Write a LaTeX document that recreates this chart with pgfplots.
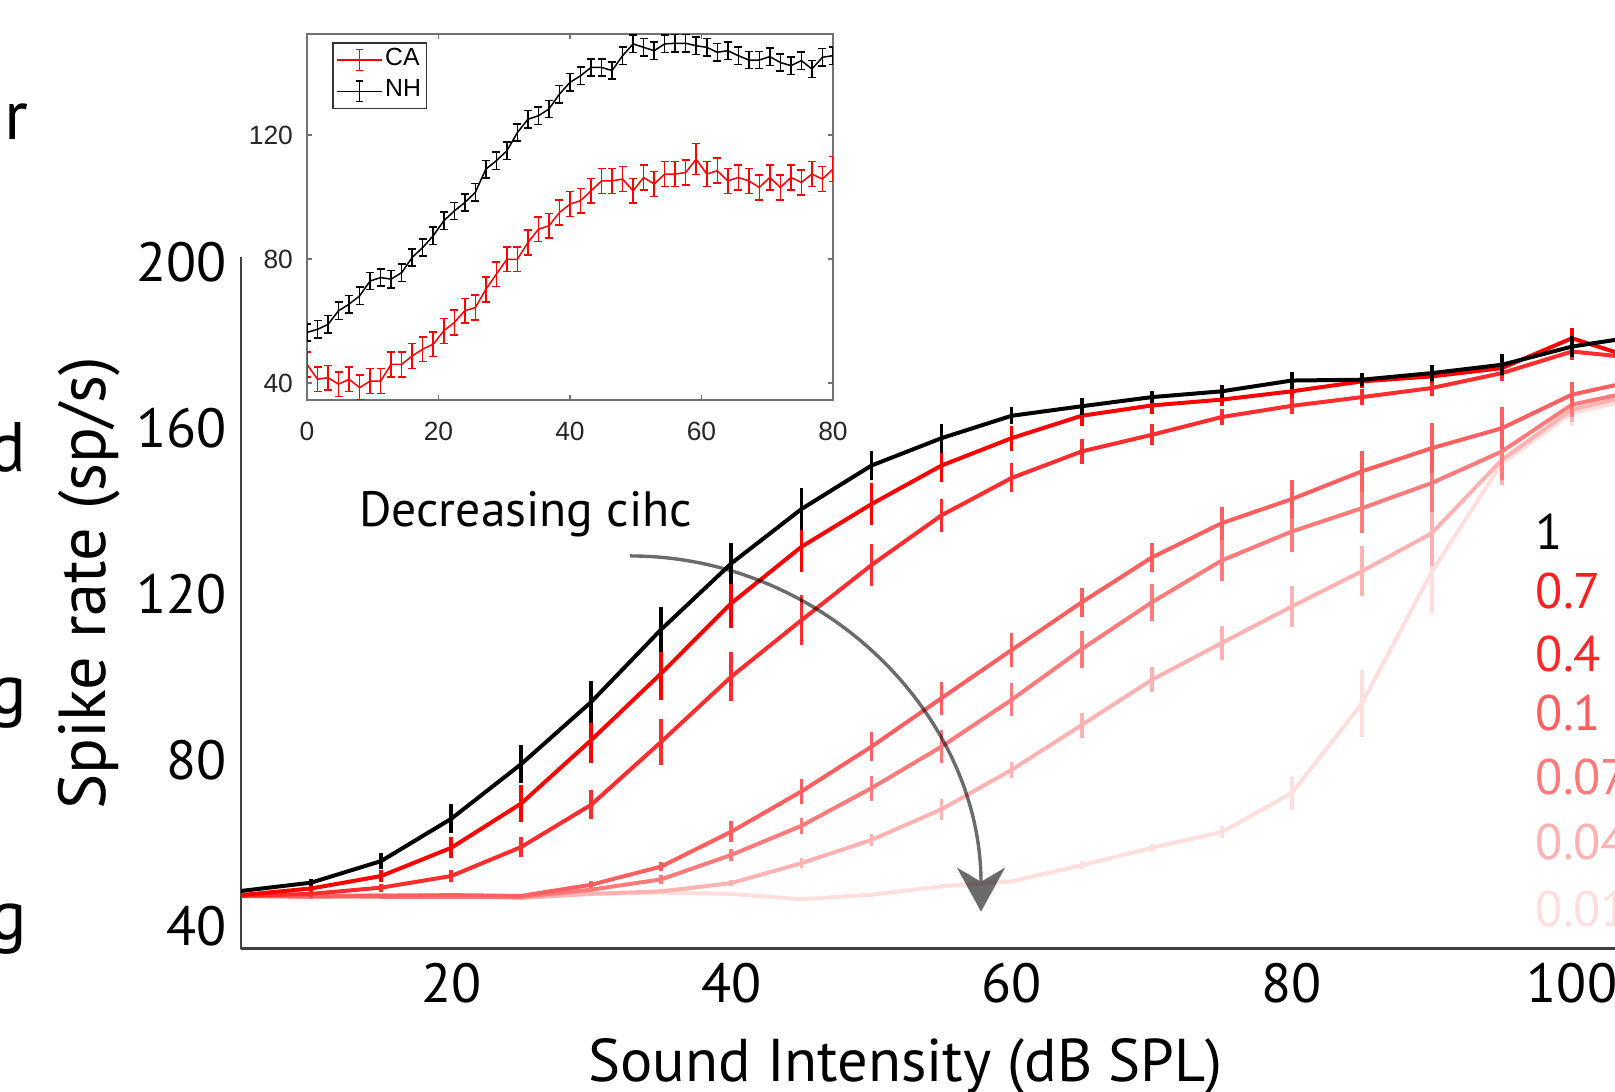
\documentclass[border=0pt]{standalone}
\usepackage{fontspec}
\setmainfont{PT Sans}
\newfontfamily\insetfont{Liberation Sans}
\usepackage{pgfplots}
\usepackage{pgfplotstable}
\pgfplotsset{compat=1.18}
\usetikzlibrary{arrows.meta}

\definecolor{c07}{RGB}{255,0,0}
\definecolor{c04}{RGB}{255,45,45}
\definecolor{c01}{RGB}{255,95,95}
\definecolor{c007}{RGB}{255,122,122}
\definecolor{c004}{RGB}{255,178,178}
\definecolor{c001}{RGB}{255,222,222}
\definecolor{l07}{RGB}{255,30,30}
\definecolor{l04}{RGB}{255,40,40}

% main figure: x = sound intensity (dB SPL), y = spike rate, e = error
\pgfplotstableread{
x y e
5 48.4 0.5
10 50.4 0.8
15 55.6 2
20 65.8 3.5
25 79 4.5
30 94 5
35 111.5 5.5
40 127.4 5
45 140.5 5
50 151 3.5
55 157.6 3.5
60 163 2
65 165.3 2
70 167.5 1.5
75 168.9 1.5
80 171.5 2
85 171.7 1.5
90 173.3 2
95 175.3 2.5
100 179.7 2.5
105 182.3 0
}\tblA
\pgfplotstableread{
x y e
5 47.4 0.5
10 49 0.7
15 52 1.5
20 58.8 2.5
25 69.5 4.5
30 84.8 5.5
35 100.9 6.5
40 117.8 6
45 131.4 6
50 141.7 5
55 151 4
60 157.6 3
65 163 2.5
70 165.5 2
75 166.9 1.5
80 168.9 1.5
85 171.3 1.5
90 172.5 1.5
95 174.5 2
100 181.7 2.5
105 176.3 0
}\tblB
\pgfplotstableread{
x y e
5 47.2 0.5
10 47.7 0.8
15 49.2 1
20 52 1.5
25 59 2.5
30 69.2 3.5
35 84.4 5.5
40 100.1 6
45 113.7 6
50 127 5
55 139 4
60 148 3.5
65 154.4 3
70 158.4 2.5
75 162.7 2
80 165.4 2
85 167.5 2
90 169.7 2
95 173.3 2
100 178.5 2
105 176.8 0
}\tblC
\pgfplotstableread{
x y e
5 47.2 0.3
10 47 0.3
15 47.2 0.3
20 47.4 0.3
25 47.2 0.5
30 49.9 0.8
35 54.3 1.2
40 62.7 2.5
45 72.4 3
50 83.2 3.5
55 94.9 4
60 106.5 4
65 118 3.5
70 128.8 3.5
75 137.1 4
80 142.9 4.5
85 149.6 5
90 155.2 6
95 160 5
100 168.1 3
105 171.8 0
}\tblD
\pgfplotstableread{
x y e
5 47.2 0.3
10 47.2 0.3
15 47 0.3
20 47 0.3
25 47 0.3
30 48.7 0.5
35 51.2 1
40 57.1 1.5
45 64.1 2
50 73.2 3
55 83.2 4
60 94.5 4
65 106.7 4.5
70 118 4.5
75 128.1 5
80 135.1 5
85 140.7 6
90 146.8 7
95 154.4 7
100 165.7 3
105 169.3 0
}\tblE
\pgfplotstableread{
x y e
5 47.2 0.3
10 47.2 0.3
15 47.4 0.3
20 47.2 0.3
25 46.7 0.3
30 47.7 0.3
35 48.3 0.5
40 50.3 0.8
45 55.1 1.2
50 60.7 1.5
55 68.1 2.5
60 77.6 2
65 88.4 3
70 99.3 3
75 108.2 4
80 117 5
85 125.5 6
90 134.7 8
95 152.4 6
100 164.5 3
105 168.5 0
}\tblF
\pgfplotstableread{
x y e
5 47.2 0.3
10 47 0.3
15 47.4 0.3
20 47.4 0.3
25 47 0.3
30 47.7 0.3
35 48 0.3
40 47.7 0.3
45 46.4 0.5
50 47.5 0.5
55 49.5 0.5
60 50.7 0.5
65 54.6 1
70 58.8 1
75 62.6 1.5
80 72 4
85 93.6 8
90 125.4 10
95 151.6 5
100 163.6 3
105 167.5 0
}\tblG

% inset
\pgfplotstableread{
x y e
0 56.3 2.8
1.6 57.3 2.8
3.2 58.9 2.8
4.8 63.3 2.8
6.4 65.4 2.8
8 68.1 2.8
9.6 72.9 2.8
11.2 74 2.8
12.8 73.5 2.8
14.4 75.6 2.8
16 80.5 2.8
17.6 83.7 2.8
19.2 87.5 2.8
20.8 92.3 2.8
22.4 95.5 2.8
24 98.2 2.8
25.6 101.5 2.8
27.2 109 2.8
28.8 111.7 2.8
30.4 114.9 2.8
32 120.8 2.8
33.6 125.1 2.8
35.2 126.2 2.8
36.8 128.4 2.8
38.4 133.2 2.8
40 137 2.8
41.6 139.1 2.8
43.2 141.8 2.8
44.8 141.8 2.8
46.4 140.8 2.8
48 145.6 2.8
49.6 149.4 2.8
51.2 148.3 2.8
52.8 147.2 2.8
54.4 149.4 2.8
56 149.6 2.8
57.6 149.6 2.8
59.2 148.8 2.8
60.8 148.3 2.8
62.4 146.7 2.8
64 147.2 2.8
65.6 145.6 2.8
67.2 144.2 2.8
68.8 144.2 2.8
70.4 145.3 2.8
72 143.4 2.8
73.6 142.4 2.8
75.2 144 2.8
76.8 141.3 2.8
78.4 145.1 2.8
80 145.6 2.8
}\tblNH
\pgfplotstableread{
x y e
0 46 4
1.6 41.2 4
3.2 41.7 4
4.8 39.6 4
6.4 41.2 4
8 38.5 4
9.6 40.6 4
11.2 40.6 4
12.8 46 4
14.4 46 4
16 48.7 4
17.6 50.9 4
19.2 52.5 4
20.8 56.8 4
22.4 59.5 4
24 63.3 4
25.6 64.3 4
27.2 70.2 4
28.8 75.1 4
30.4 79.9 4
32 79.9 4
33.6 85.3 4
35.2 89.6 4
36.8 90.7 4
38.4 95 4
40 97.7 4
41.6 98.8 4
43.2 102 4
44.8 105.2 4
46.4 105.2 4
48 105.8 4
49.6 102 4
51.2 106.3 4
52.8 104.2 4
54.4 107.4 4
56 107.4 4
57.6 107.9 4
59.2 112.2 5
60.8 107.4 4
62.4 108.5 4
64 105.2 4
65.6 106.3 4
67.2 105.2 4
68.8 103.1 4
70.4 106.3 4
72 103.1 4
73.6 106.3 4
75.2 104.7 4
76.8 107.4 4
78.4 105.8 4
80 109 4
}\tblCA

\pgfplotsset{
  mainline/.style={mark=none, line width=1.0pt, color=#1,
    error bars/.cd, y dir=both, y explicit, error mark=none,
    error bar style={line width=0.95pt, color=#1}},
  insetline/.style={mark=none, line width=0.38pt, color=#1,
    legend image code/.code={
      \draw[#1, line width=0.38pt] (0pt,0pt) -- (11.3pt,0pt);
      \draw[#1, line width=0.38pt] (5.65pt,-2.6pt) -- (5.65pt,2.6pt);
      \draw[#1, line width=0.38pt] (4.75pt,-2.6pt) -- (6.55pt,-2.6pt);
      \draw[#1, line width=0.38pt] (4.75pt,2.6pt) -- (6.55pt,2.6pt);
    },
    error bars/.cd, y dir=both, y explicit, error mark=-,
    error bar style={line width=0.38pt, color=#1},
    error mark options={rotate=90, mark size=1pt, line width=0.38pt, color=#1}},
}

\begin{document}
\begin{tikzpicture}
% cut-off letters of the neighbouring panel
\node[anchor=base east, inner sep=0pt, font=\fontsize{17.5}{20}\selectfont] at (7.3pt,237.9pt) {r};
\node[anchor=base east, inner sep=0pt, font=\fontsize{17.5}{20}\selectfont] at (6.75pt,154.8pt) {d};
\node[anchor=base east, inner sep=0pt, font=\fontsize{17.5}{20}\selectfont] at (7pt,94.25pt) {g};
\node[anchor=base east, inner sep=0pt, font=\fontsize{17.5}{20}\selectfont] at (7pt,37.75pt) {g};

\begin{axis}[
  at={(60.25pt,35.6pt)}, anchor=south west,
  scale only axis, width=367.76pt, height=172.9pt,
  xmin=5, xmax=110, ymin=34.5, ymax=201.3,
  axis x line*=bottom, axis y line*=left,
  axis line style={-, draw=black!75, line width=0.6pt},
  xtick={20,40,60,80,100}, ytick={40,80,120,160,200},
  major tick length=0pt,
  /pgf/number format/assume math mode=true,
  tick label style={font=\fontsize{13.8}{16}\selectfont},
  xlabel={Sound Intensity (dB SPL)},
  ylabel={Spike rate (sp/s)},
  xlabel style={font=\fontsize{15.1}{17}\selectfont, at={(axis description cs:0.4517,-0.1928)}, anchor=base},
  ylabel style={font=\fontsize{16.6}{19}\selectfont, at={(axis description cs:-0.1033,0.5277)}, anchor=center},
]
\addplot[mainline=c001] table[x=x,y=y,y error=e]{\tblG};
\addplot[mainline=c004] table[x=x,y=y,y error=e]{\tblF};
\addplot[mainline=c007] table[x=x,y=y,y error=e]{\tblE};
\addplot[mainline=c01] table[x=x,y=y,y error=e]{\tblD};
\addplot[mainline=c04] table[x=x,y=y,y error=e]{\tblC};
\addplot[mainline=c07] table[x=x,y=y,y error=e]{\tblB};
\addplot[mainline=black] table[x=x,y=y,y error=e]{\tblA};

\begin{scope}[transparency group, opacity=0.58]
\draw[line width=0.85pt, black, -{Stealth[length=11pt,width=12pt,inset=3.5pt]}]
  (axis cs:32.77,129.2) .. controls (axis cs:46.6,129.2) and (axis cs:57.82,90.8) .. (axis cs:57.82,43.4);
\end{scope}

\node[anchor=base west, inner sep=0pt, font=\fontsize{12.4}{14}\selectfont] at (axis cs:13.4,136.2) {Decreasing cihc};

\begin{scope}[every node/.style={anchor=base west, inner sep=0pt, font=\fontsize{12.5}{14}\selectfont}]
\node[text=black] at (axis cs:97.36,130.8) {1};
\node[text=l07] at (axis cs:97.36,116.6) {0.7};
\node[text=l04] at (axis cs:97.36,101.3) {0.4};
\node[text=c01] at (axis cs:97.36,87.06) {0.1};
\node[text=c007] at (axis cs:97.36,71.55) {0.07};
\node[text=c004] at (axis cs:97.36,55.87) {0.04};
\node[text=c001] at (axis cs:97.36,39.78) {0.01};
\end{scope}
\end{axis}

% inset
\begin{axis}[
  at={(76.75pt,172.75pt)}, anchor=south west,
  scale only axis, width=131.5pt, height=91.5pt,
  xmin=0, xmax=80, ymin=34.5, ymax=152.6,
  xtick={0,20,40,60,80}, ytick={40,80,120},
  tick align=inside, major tick length=1.3pt,
  axis line style={draw=black!55, line width=0.4pt},
  tick style={draw=black!55, line width=0.4pt},
  axis background/.style={fill=white},
  /pgf/number format/assume math mode=true,
  tick label style={font=\insetfont\fontsize{6.6}{8}\selectfont, text=black!85},
  xticklabel style={yshift=-2pt},
  legend style={at={(0.0475,0.978)}, anchor=north west, draw=black!80, line width=0.4pt,
    font=\insetfont\fontsize{6.2}{7}\selectfont, inner sep=0.8pt, row sep=0.8pt,
    nodes={inner sep=0.6pt}},
  legend cell align=left,
]
\addplot[insetline=red] table[x=x,y=y,y error=e]{\tblCA};
\addlegendentry{CA}
\addplot[insetline=black] table[x=x,y=y,y error=e]{\tblNH};
\addlegendentry{NH}
\end{axis}

\pgfresetboundingbox
\path[use as bounding box] (0pt,0pt) rectangle (403.75pt,272.75pt);
\end{tikzpicture}
\end{document}
